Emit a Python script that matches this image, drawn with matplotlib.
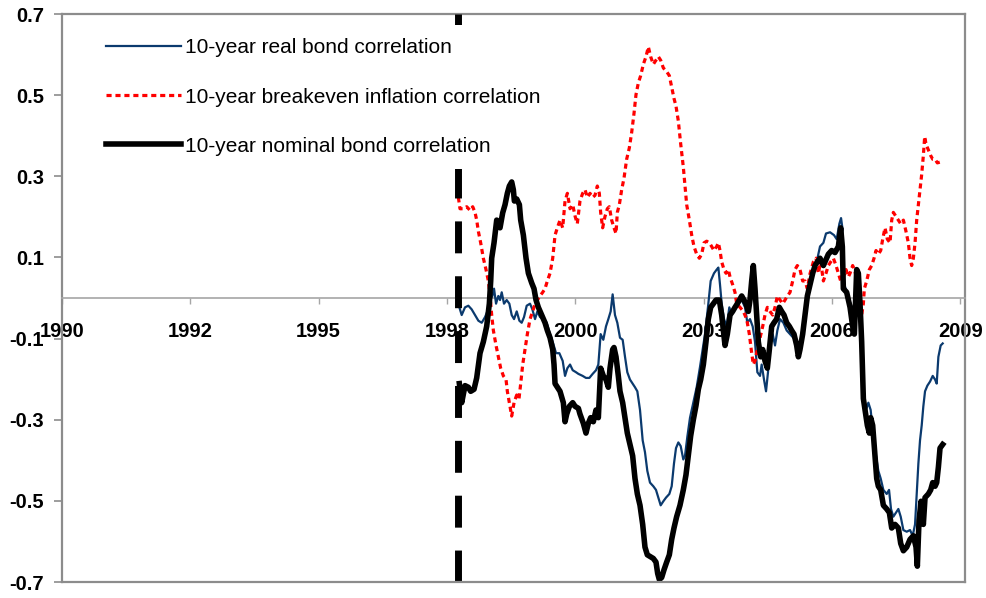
import numpy as np
import matplotlib
matplotlib.use("Agg")
import matplotlib.pyplot as plt

plt.rcParams['font.family'] = ['Liberation Sans', 'DejaVu Sans']

# ---- data (decimal year, correlation) ----
real_years = [
    1998.479, 1998.529, 1998.600, 1998.671, 1998.742, 1998.813, 1998.885, 1998.956,
    1999.027, 1999.077, 1999.134, 1999.183, 1999.219, 1999.262, 1999.311, 1999.347,
    1999.383, 1999.432, 1999.489, 1999.546, 1999.596, 1999.646, 1999.703, 1999.760,
    1999.809, 1999.859, 1999.916, 1999.987, 2000.037, 2000.094, 2000.144, 2000.200,
    2000.272, 2000.343, 2000.414, 2000.471, 2000.542, 2000.613, 2000.684, 2000.734,
    2000.784, 2000.841, 2000.898, 2000.969, 2001.019, 2001.110, 2001.181, 2001.253,
    2001.324, 2001.395, 2001.445, 2001.494, 2001.551, 2001.608, 2001.658, 2001.708,
    2001.750, 2001.800, 2001.850, 2001.907, 2001.964, 2002.014, 2002.063, 2002.120,
    2002.177, 2002.227, 2002.277, 2002.334, 2002.391, 2002.440, 2002.490, 2002.547,
    2002.618, 2002.675, 2002.725, 2002.775, 2002.832, 2002.889, 2002.960, 2003.010,
    2003.059, 2003.102, 2003.152, 2003.202, 2003.258, 2003.294, 2003.344, 2003.401,
    2003.472, 2003.543, 2003.614, 2003.721, 2003.792, 2003.842, 2003.913, 2003.970,
    2004.006, 2004.041, 2004.077, 2004.127, 2004.183, 2004.240, 2004.290, 2004.361,
    2004.432, 2004.504, 2004.575, 2004.624, 2004.681, 2004.738, 2004.788, 2004.838,
    2004.895, 2004.930, 2004.980, 2005.023, 2005.065, 2005.108, 2005.165, 2005.215,
    2005.265, 2005.322, 2005.393, 2005.464, 2005.535, 2005.606, 2005.677, 2005.734,
    2005.784, 2005.855, 2005.926, 2005.997, 2006.069, 2006.140, 2006.175, 2006.247,
    2006.303, 2006.389, 2006.474, 2006.531, 2006.588, 2006.624, 2006.652, 2006.673,
    2006.744, 2006.801, 2006.851, 2006.887, 2006.944, 2006.972, 2007.015, 2007.064,
    2007.100, 2007.157, 2007.207, 2007.256, 2007.313, 2007.370, 2007.420, 2007.470,
    2007.527, 2007.598, 2007.648, 2007.690, 2007.740, 2007.797, 2007.847, 2007.897,
    2007.954, 2008.025, 2008.096, 2008.153, 2008.203, 2008.238, 2008.274, 2008.309,
    2008.345, 2008.380, 2008.416, 2008.466, 2008.523, 2008.580, 2008.630, 2008.665,
    2008.701, 2008.750, 2008.793,
]
real_corr = [
    -0.023, -0.042, -0.023, -0.019, -0.028, -0.042, -0.056, -0.061,
    -0.047, -0.033, -0.005, 0.005, 0.023, -0.014, 0.005, -0.005,
    0.014, -0.014, -0.005, -0.014, -0.042, -0.052, -0.033, -0.056,
    -0.061, -0.047, -0.019, -0.014, -0.028, -0.052, -0.033, -0.047,
    -0.052, -0.061, -0.089, -0.108, -0.136, -0.136, -0.155, -0.192,
    -0.173, -0.164, -0.178, -0.183, -0.187, -0.192, -0.197, -0.197,
    -0.187, -0.178, -0.164, -0.089, -0.103, -0.070, -0.052, -0.033,
    0.009, -0.042, -0.061, -0.098, -0.103, -0.145, -0.183, -0.201,
    -0.211, -0.220, -0.230, -0.276, -0.351, -0.380, -0.426, -0.455,
    -0.464, -0.473, -0.492, -0.511, -0.501, -0.492, -0.483, -0.464,
    -0.408, -0.370, -0.356, -0.365, -0.398, -0.389, -0.342, -0.295,
    -0.258, -0.220, -0.170, -0.089, -0.014, 0.042, 0.061, 0.070,
    0.075, 0.033, -0.014, -0.052, -0.070, -0.023, -0.042, -0.023,
    -0.014, -0.005, -0.023, -0.061, -0.052, -0.070, -0.108, -0.183,
    -0.192, -0.164, -0.201, -0.230, -0.183, -0.108, -0.089, -0.117,
    -0.080, -0.052, -0.061, -0.080, -0.089, -0.098, -0.108, -0.127,
    -0.089, -0.033, 0.023, 0.052, 0.070, 0.108, 0.127, 0.136,
    0.159, 0.162, 0.155, 0.145, 0.183, 0.197, 0.173, 0.042,
    0.014, -0.005, -0.023, -0.042, 0.023, 0.042, -0.014, -0.108,
    -0.239, -0.276, -0.258, -0.276, -0.342, -0.389, -0.426, -0.445,
    -0.473, -0.483, -0.473, -0.520, -0.539, -0.529, -0.520, -0.539,
    -0.572, -0.576, -0.572, -0.586, -0.558, -0.483, -0.408, -0.351,
    -0.314, -0.267, -0.230, -0.216, -0.206, -0.192, -0.201, -0.211,
    -0.145, -0.117, -0.112,
]

breakeven_years = [
    1998.458, 1998.493, 1998.565, 1998.636, 1998.707, 1998.764, 1998.813, 1998.849,
    1998.885, 1998.934, 1998.991, 1999.048, 1999.098, 1999.134, 1999.169, 1999.205,
    1999.262, 1999.311, 1999.361, 1999.418, 1999.475, 1999.503, 1999.546, 1999.596,
    1999.646, 1999.703, 1999.752, 1999.788, 1999.831, 1999.880, 1999.930, 1999.987,
    2000.044, 2000.094, 2000.144, 2000.200, 2000.257, 2000.307, 2000.357, 2000.414,
    2000.471, 2000.521, 2000.570, 2000.627, 2000.684, 2000.734, 2000.784, 2000.841,
    2000.898, 2000.950, 2000.996, 2001.053, 2001.110, 2001.160, 2001.210, 2001.267,
    2001.324, 2001.373, 2001.423, 2001.466, 2001.494, 2001.537, 2001.587, 2001.637,
    2001.679, 2001.729, 2001.779, 2001.822, 2001.850, 2001.893, 2001.943, 2001.992,
    2002.049, 2002.106, 2002.156, 2002.206, 2002.248, 2002.298, 2002.348, 2002.405,
    2002.462, 2002.512, 2002.561, 2002.618, 2002.675, 2002.725, 2002.775, 2002.832,
    2002.903, 2002.960, 2003.010, 2003.059, 2003.102, 2003.152, 2003.202, 2003.258,
    2003.294, 2003.330, 2003.387, 2003.437, 2003.486, 2003.543, 2003.600, 2003.650,
    2003.700, 2003.757, 2003.814, 2003.863, 2003.913, 2003.970, 2004.006, 2004.041,
    2004.077, 2004.127, 2004.169, 2004.219, 2004.255, 2004.311, 2004.361, 2004.397,
    2004.468, 2004.539, 2004.610, 2004.667, 2004.717, 2004.752, 2004.788, 2004.838,
    2004.895, 2004.952, 2005.001, 2005.051, 2005.108, 2005.165, 2005.215, 2005.265,
    2005.322, 2005.378, 2005.428, 2005.478, 2005.535, 2005.592, 2005.642, 2005.691,
    2005.748, 2005.805, 2005.855, 2005.905, 2005.962, 2006.033, 2006.090, 2006.140,
    2006.190, 2006.247, 2006.303, 2006.353, 2006.403, 2006.460, 2006.517, 2006.567,
    2006.616, 2006.673, 2006.730, 2006.780, 2006.816, 2006.872, 2006.922, 2006.958,
    2006.993, 2007.029, 2007.064, 2007.100, 2007.121, 2007.171, 2007.228, 2007.278,
    2007.328, 2007.370, 2007.420, 2007.470, 2007.513, 2007.562, 2007.612, 2007.669,
    2007.705, 2007.740, 2007.797, 2007.847, 2007.897, 2007.954, 2008.010, 2008.060,
    2008.096, 2008.131, 2008.167, 2008.203, 2008.238, 2008.274, 2008.309, 2008.345,
    2008.380, 2008.409, 2008.437, 2008.487, 2008.537, 2008.580, 2008.630, 2008.679,
    2008.736, 2008.779,
]
breakeven_corr = [
    0.248, 0.220, 0.220, 0.225, 0.216, 0.225, 0.211, 0.192,
    0.164, 0.136, 0.098, 0.070, 0.042, 0.005, -0.042, -0.080,
    -0.117, -0.145, -0.173, -0.192, -0.201, -0.230, -0.258, -0.291,
    -0.258, -0.239, -0.248, -0.211, -0.164, -0.127, -0.089, -0.052,
    -0.033, -0.014, -0.005, 0.005, 0.014, 0.023, 0.042, 0.061,
    0.098, 0.155, 0.173, 0.192, 0.173, 0.239, 0.258, 0.220,
    0.230, 0.201, 0.183, 0.239, 0.258, 0.267, 0.248, 0.258,
    0.248, 0.253, 0.276, 0.258, 0.211, 0.173, 0.201, 0.220,
    0.225, 0.192, 0.173, 0.159, 0.211, 0.230, 0.267, 0.295,
    0.342, 0.370, 0.408, 0.455, 0.501, 0.530, 0.548, 0.576,
    0.595, 0.619, 0.595, 0.576, 0.586, 0.595, 0.586, 0.567,
    0.558, 0.548, 0.520, 0.492, 0.473, 0.436, 0.380, 0.323,
    0.276, 0.230, 0.192, 0.155, 0.127, 0.108, 0.098, 0.108,
    0.136, 0.140, 0.136, 0.127, 0.117, 0.127, 0.136, 0.117,
    0.089, 0.070, 0.061, 0.070, 0.052, 0.033, 0.014, -0.014,
    -0.023, -0.033, -0.052, -0.089, -0.136, -0.164, -0.155, -0.127,
    -0.098, -0.070, -0.042, -0.023, -0.033, -0.042, -0.023, 0.005,
    -0.005, -0.014, -0.005, 0.005, 0.014, 0.042, 0.070, 0.080,
    0.070, 0.042, 0.042, 0.023, 0.060, 0.089, 0.098, 0.061,
    0.089, 0.042, 0.061, 0.080, 0.089, 0.098, 0.080, 0.061,
    0.042, 0.052, 0.070, 0.052, 0.061, 0.080, 0.066, 0.042,
    0.005, -0.014, -0.042, -0.014, 0.023, 0.042, 0.070, 0.080,
    0.098, 0.117, 0.108, 0.117, 0.145, 0.173, 0.145, 0.136,
    0.192, 0.211, 0.201, 0.192, 0.183, 0.192, 0.164, 0.136,
    0.098, 0.080, 0.098, 0.136, 0.192, 0.230, 0.267, 0.305,
    0.351, 0.398, 0.379, 0.365, 0.351, 0.342, 0.342, 0.333,
    0.335, 0.333,
]

nominal_years = [
    1998.479, 1998.529, 1998.600, 1998.671, 1998.721, 1998.792, 1998.849, 1998.920,
    1998.991, 1999.062, 1999.119, 1999.148, 1999.169, 1999.219, 1999.276, 1999.347,
    1999.404, 1999.454, 1999.503, 1999.546, 1999.596, 1999.631, 1999.653, 1999.703,
    1999.760, 1999.788, 1999.845, 1999.902, 1999.952, 2000.023, 2000.072, 2000.115,
    2000.165, 2000.236, 2000.307, 2000.357, 2000.414, 2000.471, 2000.499, 2000.521,
    2000.570, 2000.627, 2000.698, 2000.734, 2000.770, 2000.827, 2000.898, 2000.948,
    2001.019, 2001.053, 2001.125, 2001.181, 2001.231, 2001.281, 2001.338, 2001.395,
    2001.445, 2001.494, 2001.551, 2001.608, 2001.658, 2001.694, 2001.750, 2001.779,
    2001.822, 2001.871, 2001.907, 2001.964, 2002.014, 2002.063, 2002.120, 2002.177,
    2002.227, 2002.277, 2002.334, 2002.391, 2002.440, 2002.490, 2002.547, 2002.618,
    2002.675, 2002.711, 2002.746, 2002.796, 2002.846, 2002.903, 2002.960, 2003.010,
    2003.059, 2003.116, 2003.187, 2003.258, 2003.315, 2003.365, 2003.415, 2003.472,
    2003.529, 2003.579, 2003.629, 2003.686, 2003.742, 2003.792, 2003.842, 2003.899,
    2003.956, 2004.027, 2004.077, 2004.112, 2004.148, 2004.198, 2004.255, 2004.311,
    2004.361, 2004.411, 2004.454, 2004.504, 2004.553, 2004.596, 2004.646, 2004.681,
    2004.717, 2004.752, 2004.788, 2004.824, 2004.859, 2004.909, 2004.952, 2005.001,
    2005.051, 2005.094, 2005.144, 2005.193, 2005.250, 2005.307, 2005.357, 2005.407,
    2005.464, 2005.521, 2005.570, 2005.620, 2005.677, 2005.713, 2005.748, 2005.805,
    2005.855, 2005.905, 2005.962, 2006.019, 2006.069, 2006.118, 2006.175, 2006.247,
    2006.353, 2006.424, 2006.495, 2006.567, 2006.616, 2006.652, 2006.673, 2006.744,
    2006.816, 2006.872, 2006.908, 2006.944, 2006.958, 2006.993, 2007.029, 2007.064,
    2007.100, 2007.136, 2007.185, 2007.228, 2007.257, 2007.299, 2007.349, 2007.385,
    2007.420, 2007.470, 2007.527, 2007.598, 2007.655, 2007.705, 2007.776, 2007.847,
    2007.897, 2007.954, 2008.025, 2008.096, 2008.167, 2008.224, 2008.252, 2008.288,
    2008.331, 2008.380, 2008.416, 2008.487, 2008.537, 2008.580, 2008.630, 2008.665,
    2008.701, 2008.736, 2008.793,
]
nominal_corr = [
    -0.211, -0.258, -0.216, -0.220, -0.230, -0.225, -0.197, -0.136,
    -0.108, -0.070, -0.014, 0.042, 0.098, 0.136, 0.192, 0.173,
    0.210, 0.230, 0.258, 0.276, 0.286, 0.267, 0.239, 0.244,
    0.230, 0.192, 0.155, 0.098, 0.061, 0.037, 0.023, -0.005,
    -0.023, -0.042, -0.061, -0.080, -0.098, -0.127, -0.164, -0.211,
    -0.220, -0.230, -0.258, -0.305, -0.286, -0.267, -0.258, -0.267,
    -0.272, -0.286, -0.309, -0.333, -0.309, -0.295, -0.305, -0.276,
    -0.295, -0.173, -0.192, -0.201, -0.220, -0.173, -0.127, -0.122,
    -0.145, -0.192, -0.230, -0.258, -0.295, -0.333, -0.361, -0.389,
    -0.445, -0.483, -0.511, -0.558, -0.614, -0.633, -0.637, -0.642,
    -0.651, -0.679, -0.694, -0.689, -0.670, -0.651, -0.633, -0.595,
    -0.567, -0.539, -0.511, -0.473, -0.436, -0.389, -0.340, -0.300,
    -0.265, -0.225, -0.201, -0.164, -0.108, -0.052, -0.023, -0.014,
    -0.005, -0.005, -0.042, -0.080, -0.117, -0.089, -0.042, -0.033,
    -0.023, -0.014, -0.005, 0.005, -0.005, -0.014, -0.033, -0.005,
    0.042, 0.080, 0.023, -0.042, -0.108, -0.145, -0.127, -0.155,
    -0.173, -0.127, -0.070, -0.061, -0.052, -0.023, -0.033, -0.042,
    -0.061, -0.070, -0.080, -0.089, -0.117, -0.145, -0.127, -0.089,
    -0.042, 0.005, 0.033, 0.061, 0.080, 0.089, 0.098, 0.080,
    0.108, 0.117, 0.112, 0.127, 0.173, 0.126, 0.023, 0.014,
    -0.023, -0.070, -0.089, 0.023, 0.070, 0.061, -0.014, -0.108,
    -0.248, -0.276, -0.314, -0.333, -0.295, -0.314, -0.389, -0.445,
    -0.464, -0.473, -0.511, -0.520, -0.529, -0.567, -0.558, -0.567,
    -0.605, -0.623, -0.614, -0.595, -0.586, -0.614, -0.661, -0.548,
    -0.501, -0.558, -0.492, -0.483, -0.473, -0.455, -0.464, -0.455,
    -0.417, -0.370, -0.361,
]

# Excel date axis: major unit 1000 days starting 1 Jan 1990
tick_years = [1990 + k * 1000 / 365.25 for k in range(8)]
tick_labels = ["1990", "1992", "1995", "1998", "2000", "2003", "2006", "2009"]
y_ticks = [-0.7, -0.5, -0.3, -0.1, 0.1, 0.3, 0.5, 0.7]
marker_year = 1998.45

GREY = "#8c8c8c"

fig = plt.figure(figsize=(9.87, 5.98), dpi=100)
ax = fig.add_axes([62 / 987, 16 / 598, 903 / 987, 568 / 598])

# axis line through zero (set before tick labels: set_position resets ticks)
ax.spines["bottom"].set_position(("data", 0))
ax.spines["bottom"].set_color("#a6a6a6")
ax.spines["bottom"].set_linewidth(1.2)
for s in ["left", "right", "top"]:
    ax.spines[s].set_color(GREY)
    ax.spines[s].set_linewidth(1.6)
ax.axhline(-0.7, color=GREY, lw=1.6, clip_on=False, zorder=4)

ax.plot(real_years, real_corr, color="#0b3a6e", lw=1.6, zorder=3,
        label="10-year real bond correlation")
ax.plot(breakeven_years, breakeven_corr, color="#ff0000", lw=2.3, zorder=3,
        dashes=(1.6, 1.2), label="10-year breakeven inflation correlation")
ax.plot(nominal_years, nominal_corr, color="black", lw=4.0, zorder=3,
        solid_joinstyle="round", label="10-year nominal bond correlation")

ax.plot([marker_year, marker_year], [-0.7, 0.7], color="black", lw=5,
        dashes=(4.6, 3.3), zorder=3)

ax.set_xlim(1990, 1990 + 903 * 7.794 / 365.25)
ax.set_ylim(-0.7, 0.7)

ax.set_yticks(y_ticks)
ax.set_yticklabels(["%.1f" % v for v in y_ticks], fontsize=14.5, fontweight="bold")
ax.set_xticks(tick_years)
ax.set_xticklabels(tick_labels, fontsize=14.5, fontweight="bold")

ax.tick_params(axis="y", direction="out", length=6, width=1.2, color=GREY, pad=7)
ax.tick_params(axis="x", direction="out", length=4, width=1.0, color="#a6a6a6", pad=13)

leg = ax.legend(loc="upper left", bbox_to_anchor=(0.034, 0.981), borderaxespad=0,
                fontsize=15, handlelength=3.6, handletextpad=0.2, labelspacing=1.45,
                borderpad=0.65, frameon=True, fancybox=False)
leg.get_frame().set_facecolor("white")
leg.get_frame().set_edgecolor("none")
leg.get_frame().set_alpha(1)
leg.set_zorder(5)

fig.savefig("out.png", dpi=100)
